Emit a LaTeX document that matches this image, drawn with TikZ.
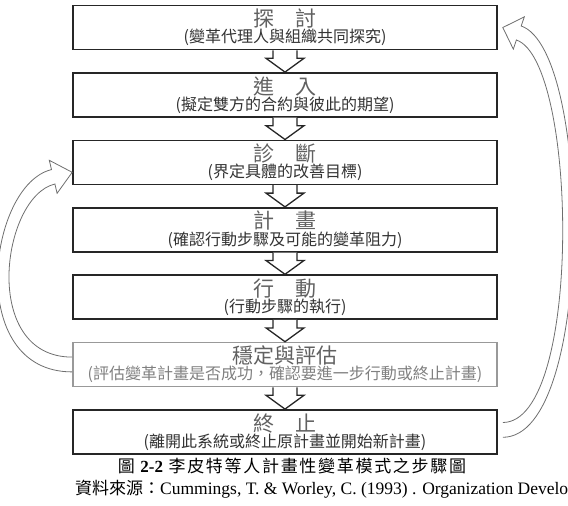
\documentclass[tikz,border=0pt]{standalone}
\usepackage{fontspec}
\setmainfont{Noto Sans CJK TC}
\newfontfamily\tnr{Liberation Serif}
\usetikzlibrary{arrows.meta, positioning, calc}
\definecolor{stepgrey}{HTML}{6E6E6E}
\tikzset{
  x=1pt, y=1pt,
  node distance=21.8pt,
  stepbox/.style={rectangle, draw=black!85, line width=1.6pt, fill=white,
                  minimum width=424pt, minimum height=44pt, inner sep=0pt,
                  align=center, text=black!80},
  stepboxl/.style={stepbox, draw=black!40, text=black!50},
  blockarrow/.style={draw=black!85, line width=1.3pt, fill=white, line join=miter},
  curveline/.style={draw=stepgrey, line width=0.8pt, line join=miter},
  capt/.style={font=\fontsize{17}{18}\selectfont, inner sep=0pt},
}
\newcommand{\steptitle}[1]{{\fontsize{21}{22}\selectfont\color{black!62}#1}}
\newcommand{\stepnote}[1]{{\fontsize{16}{17}\selectfont #1}}

\begin{document}
\begin{tikzpicture}
  \useasboundingbox (0,0) rectangle (568,-506);
  \node[stepbox] (s1) at (285,-27.5) {\steptitle{探\hspace{1em}討}\\\stepnote{(變革代理人與組織共同探究)}};
  \node[stepbox, below=of s1] (s2) {\steptitle{進\hspace{1em}入}\\\stepnote{(擬定雙方的合約與彼此的期望)}};
  \node[stepbox, below=of s2] (s3) {\steptitle{診\hspace{1em}斷}\\\stepnote{(界定具體的改善目標)}};
  \node[stepbox, below=of s3] (s4) {\steptitle{計\hspace{1em}畫}\\\stepnote{(確認行動步驟及可能的變革阻力)}};
  \node[stepbox, below=of s4] (s5) {\steptitle{行\hspace{1em}動}\\\stepnote{(行動步驟的執行)}};
  \node[stepboxl, below=of s5] (s6) {\steptitle{穩定與評估}\\\stepnote{(評估變革計畫是否成功，確認要進一步行動或終止計畫)}};
  \node[stepbox, below=of s6] (s7) {\steptitle{終\hspace{1em}止}\\\stepnote{(離開此系統或終止原計畫並開始新計畫)}};
  % hollow arrows between the steps
  \foreach \a/\b in {s1/s2,s2/s3,s3/s4,s4/s5,s5/s6,s6/s7}{
    \draw[blockarrow] ([xshift=-12pt]\a.south) -- ([xshift=-12pt,yshift=-8pt]\a.south)
      -- ([xshift=-19pt,yshift=-8pt]\a.south) -- (\b.north)
      -- ([xshift=19pt,yshift=-8pt]\a.south) -- ([xshift=12pt,yshift=-8pt]\a.south)
      -- ([xshift=12pt]\a.south);
  }
  % feedback loop on the left: 穩定與評估 back to 診斷
  \coordinate (lt) at ([yshift=-10pt]s3.west);
  \coordinate (lb) at ($(lt)+(-19,-4.5)$);
  \coordinate (lbo) at ($(lb)+(-1.7,7.2)$);
  \coordinate (lbi) at ($(lb)+(1.7,-7.2)$);
  \draw[curveline] ([yshift=-7.4pt]s6.west) .. controls +(-108,0) and +(-63.2,-15) .. (lbo)
    -- ($(lb)+(-3.9,16.5)$) -- (lt) -- ($(lb)+(3.9,-16.5)$) -- (lbi)
    .. controls +(-53.5,-12.7) and +(-92,0) .. ([yshift=7.4pt]s6.west);
  % feedback loop on the right: 終止 back to 探討
  \coordinate (rt) at ([xshift=5pt]s1.east);
  \coordinate (rb) at ($(rt)+(16,-5.5)$);
  \coordinate (rbo) at ($(rb)+(2.4,7)$);
  \coordinate (rbi) at ($(rb)+(-2.4,-7)$);
  \draw[curveline] ([xshift=5pt,yshift=-5.4pt]s7.east) .. controls +(92,0) and +(71,-24.4) .. (rbo)
    -- ($(rb)+(5.5,16.1)$) -- (rt) -- ($(rb)+(-5.5,-16.1)$) -- (rbi)
    .. controls +(61.5,-21.1) and +(80,0) .. ([xshift=5pt,yshift=9.4pt]s7.east);
  \node[capt] (cap) at (292,-466) {\addfontfeature{LetterSpace=10}圖 {\tnr\bfseries 2-2}\ 李皮特等人計畫性變革模式之步驟圖};
  \node[capt, anchor=west] (src) at (75,-489) {資料來源：{\tnr\fontsize{17.5}{18}\selectfont Cummings, T. \& Worley, C. (1993) . Organization Develo}};
\end{tikzpicture}
\end{document}
